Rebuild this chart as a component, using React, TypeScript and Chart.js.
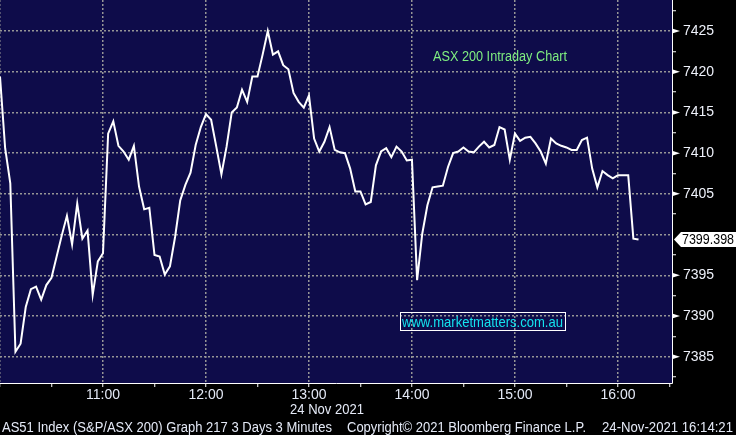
import React, { useEffect, useLayoutEffect, useRef } from 'react';
import { Chart, registerables } from 'chart.js';

Chart.register(...registerables);

// ASX 200 (AS51) intraday, 3-minute bars from 10:00
const values = [
  7419.4, 7410.6, 7406.3, 7385.6, 7386.6, 7391.1, 7393.3, 7393.6, 7392.0, 7393.8,
  7394.7, 7397.3, 7399.9, 7402.3, 7398.8, 7403.8, 7399.5, 7400.5, 7392.6, 7396.7,
  7397.7, 7412.4, 7413.9, 7410.9, 7410.2, 7409.2, 7410.9, 7405.9, 7403.1, 7403.3,
  7397.5, 7397.3, 7395.1, 7396.1, 7399.7, 7404.2, 7406.1, 7407.6, 7411.0, 7413.2,
  7414.8, 7414.1, 7410.8, 7407.4, 7410.8, 7415.0, 7415.6, 7417.8, 7416.3, 7419.4,
  7419.4, 7422.1, 7425.0, 7422.1, 7422.5, 7420.8, 7420.3, 7417.4, 7416.3, 7415.6,
  7417.1, 7411.8, 7410.2, 7411.4, 7413.2, 7410.4, 7410.1, 7410.0, 7408.1, 7405.3,
  7405.3, 7403.7, 7404.0, 7408.5, 7410.2, 7410.6, 7409.5, 7410.8, 7410.2, 7409.1,
  7409.2, 7394.4, 7400.1, 7403.6, 7405.8, 7405.9, 7406.0, 7408.3, 7410.0, 7410.2,
  7410.7, 7410.2, 7410.1, 7410.8, 7411.4, 7410.7, 7411.0, 7413.2, 7412.9, 7409.2,
  7412.4, 7411.5, 7411.9, 7412.0, 7411.2, 7410.2, 7408.7, 7411.8, 7411.2, 7410.9,
  7410.7, 7410.4, 7410.4, 7411.6, 7411.9, 7408.1, 7405.8, 7407.8, 7407.3, 7406.9,
  7407.3, 7407.3, 7407.3, 7399.5, 7399.398,
];
const stepMinutes = 3; // minutes after 10:00 between points
const hourLabels = ['10:00', '11:00', '12:00', '13:00', '14:00', '15:00', '16:00'];
const xMinMinutes = 0;
const xMaxMinutes = 391.5;
const yMin = 7381.77;
const yMax = 7428.81;
const yMajorStep = 5;
const yMinorStep = 2.5;
const xMinorStep = 30;

const NAVY = '#0e0c4a';
const GRID = 'rgb(150,150,150)';
const FONT = '"Liberation Sans", Arial, sans-serif';

const lastValue = values[values.length - 1];
const isMultiple = (v: number, m: number) => Math.abs(Math.round(v / m) * m - v) < 1e-6;
const hiddenByTag = (v: number) => Math.abs(v - lastValue) < 1.2;

function FitText(props: { text: string; left: number; top: number; width: number; size: number; color: string }) {
  const ref = useRef<HTMLSpanElement>(null);
  useLayoutEffect(() => {
    const el = ref.current;
    if (!el) return;
    el.style.transform = 'none';
    const w = el.getBoundingClientRect().width;
    if (w > 0) el.style.transform = `scaleX(${props.width / w})`;
  }, [props.text, props.width]);
  return (
    <span
      ref={ref}
      style={{
        position: 'absolute',
        left: props.left,
        top: props.top,
        fontSize: props.size,
        lineHeight: `${props.size}px`,
        color: props.color,
        whiteSpace: 'pre',
        transformOrigin: '0 0',
        fontFamily: FONT,
      }}
    >
      {props.text}
    </span>
  );
}

export default function App() {
  const canvasRef = useRef<HTMLCanvasElement>(null);

  useEffect(() => {
    document.body.style.margin = '0';
    const canvas = canvasRef.current;
    if (!canvas) return;

    const points = values.map((v, i) => ({ x: i * stepMinutes, y: v }));

    const bgPlugin = {
      id: 'bg',
      beforeDraw(chart: any) {
        const { ctx, chartArea } = chart;
        ctx.save();
        ctx.fillStyle = '#000';
        ctx.fillRect(0, 0, chart.width, chart.height);
        ctx.fillStyle = NAVY;
        ctx.fillRect(chartArea.left, chartArea.top, chartArea.right - chartArea.left, chartArea.bottom - chartArea.top);
        ctx.restore();
      },
    };

    const markerPlugin = {
      id: 'markers',
      afterDraw(chart: any) {
        const { ctx, chartArea } = chart;
        const ys = chart.scales.y;
        ctx.save();
        ctx.fillStyle = '#ffffff';
        ys.ticks.forEach((t: any) => {
          if (!isMultiple(t.value, yMajorStep) || hiddenByTag(t.value)) return;
          const py = ys.getPixelForValue(t.value);
          const x0 = chartArea.right;
          ctx.beginPath();
          ctx.moveTo(x0, py - 2.5);
          ctx.lineTo(x0 + 8, py);
          ctx.lineTo(x0, py + 2.5);
          ctx.closePath();
          ctx.fill();
        });
        // last value tag
        const py = ys.getPixelForValue(lastValue);
        const x0 = chartArea.right + 2;
        ctx.beginPath();
        ctx.moveTo(x0, py);
        ctx.lineTo(x0 + 7, py - 7.5);
        ctx.lineTo(chart.width, py - 7.5);
        ctx.lineTo(chart.width, py + 7.5);
        ctx.lineTo(x0 + 7, py + 7.5);
        ctx.closePath();
        ctx.fill();
        ctx.fillStyle = '#000';
        ctx.font = `14px ${FONT}`;
        ctx.textBaseline = 'middle';
        ctx.textAlign = 'left';
        ctx.fillText(lastValue.toFixed(3), x0 + 8, py + 1, 52);
        ctx.restore();
      },
    };

    const chart = new Chart(canvas, {
      type: 'line',
      data: {
        datasets: [
          {
            data: points,
            borderColor: '#ffffff',
            borderWidth: 2,
            pointRadius: 0,
            tension: 0,
            fill: false,
          },
        ],
      },
      options: {
        animation: false,
        responsive: false,
        events: [],
        layout: { padding: 0 },
        plugins: { legend: { display: false }, tooltip: { enabled: false }, title: { display: false } },
        scales: {
          x: {
            type: 'linear',
            position: 'bottom',
            min: xMinMinutes,
            max: xMaxMinutes,
            afterFit: (s: any) => {
              s.height = 52;
              s.paddingLeft = 0;
              s.paddingRight = 0;
              s.paddingTop = 0;
              s.paddingBottom = 0;
            },
            border: { display: true, color: '#ffffff', width: 1, dash: [2, 2] },
            grid: {
              drawOnChartArea: true,
              drawTicks: true,
              tickLength: 4,
              lineWidth: 1.5,
              color: (c: any) => (c.tick && isMultiple(c.tick.value, 60) ? GRID : 'rgba(0,0,0,0)'),
              tickColor: '#ffffff',
              tickWidth: 1,
              tickBorderDash: [],
            },
            ticks: {
              stepSize: xMinorStep,
              includeBounds: false,
              autoSkip: false,
              maxRotation: 0,
              padding: 0,
              color: '#e4e9f6',
              font: { family: FONT, size: 14 },
              callback: (v: any) => {
                const n = Number(v);
                if (n <= 0 || !isMultiple(n, 60)) return '';
                return hourLabels[Math.round(n / 60)] || '';
              },
            },
          },
          y: {
            type: 'linear',
            position: 'right',
            min: yMin,
            max: yMax,
            afterFit: (s: any) => {
              s.width = 64;
              s.paddingLeft = 0;
              s.paddingRight = 0;
              s.paddingTop = 0;
              s.paddingBottom = 0;
            },
            border: { display: true, color: '#ffffff', width: 1, dash: [2, 2] },
            grid: {
              drawOnChartArea: true,
              drawTicks: true,
              tickLength: 4,
              lineWidth: 1.5,
              color: (c: any) => (c.tick && isMultiple(c.tick.value, yMajorStep) ? GRID : 'rgba(0,0,0,0)'),
              tickColor: (c: any) => (c.tick && isMultiple(c.tick.value, yMajorStep) ? 'rgba(0,0,0,0)' : '#ffffff'),
              tickWidth: 1,
              tickBorderDash: [],
            },
            ticks: {
              stepSize: yMinorStep,
              includeBounds: false,
              autoSkip: false,
              padding: 7,
              color: '#eef1fa',
              font: { family: FONT, size: 14 },
              callback: (v: any) => {
                const n = Number(v);
                return isMultiple(n, yMajorStep) && !hiddenByTag(n) ? String(Math.round(n)) : '';
              },
            },
          },
        },
      },
      plugins: [bgPlugin, markerPlugin],
    } as any);

    return () => chart.destroy();
  }, []);

  return (
    <div style={{ position: 'relative', width: 736, height: 435, background: '#000', overflow: 'hidden' }}>
      <canvas ref={canvasRef} width={736} height={435} style={{ position: 'absolute', left: 0, top: 0, width: 736, height: 435 }} />
      <FitText text="ASX 200 Intraday Chart" left={433} top={49} width={134} size={14} color="#7fee80" />
      <div
        style={{
          position: 'absolute',
          left: 400,
          top: 312,
          width: 166,
          height: 19,
          boxSizing: 'border-box',
          border: '1px solid #ffffff',
        }}
      />
      <FitText text="www.marketmatters.com.au" left={402} top={314} width={161} size={15} color="#14e3ee" />
      <FitText text="24 Nov 2021" left={290} top={402} width={74} size={14} color="#e4e9f6" />
      <FitText text="AS51 Index (S&P/ASX 200) Graph 217 3 Days 3 Minutes" left={2} top={420} width={330} size={14} color="#e4e9f6" />
      <FitText text="Copyright© 2021 Bloomberg Finance L.P." left={347} top={420} width={239} size={14} color="#e4e9f6" />
      <FitText text="24-Nov-2021 16:14:21" left={602} top={420} width={131} size={14} color="#e4e9f6" />
    </div>
  );
}
